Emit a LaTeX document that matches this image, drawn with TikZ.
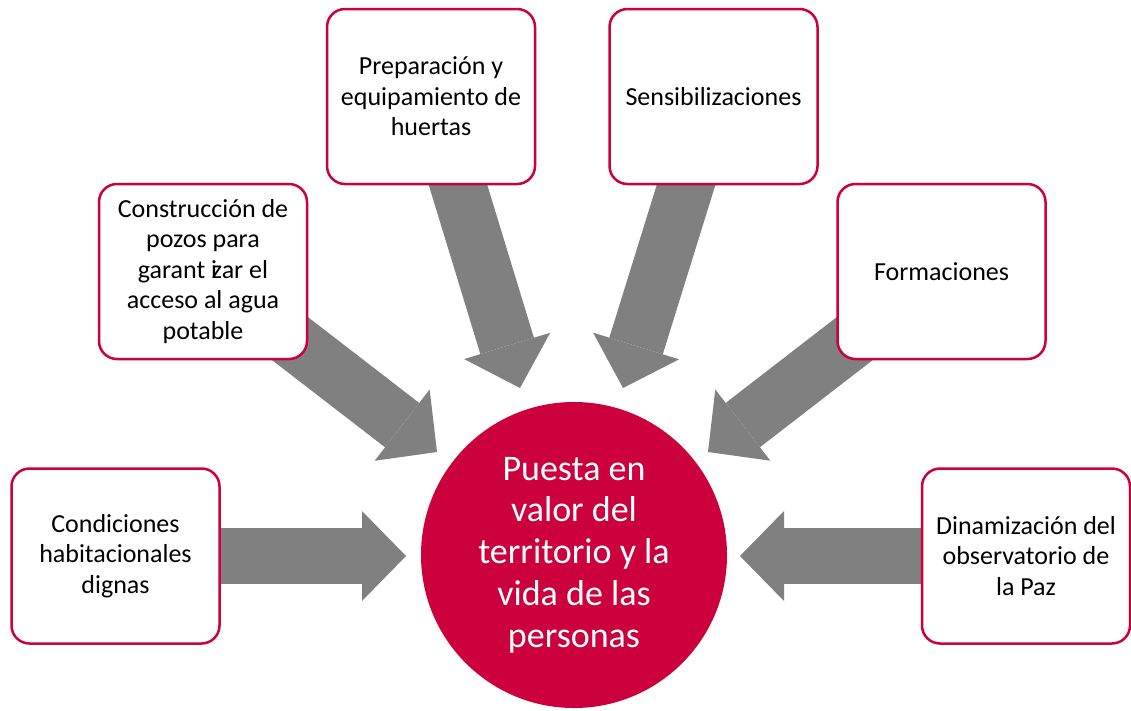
\documentclass[tikz,border=0pt]{standalone}
\usepackage{fontspec}
\setmainfont{Carlito}
\usetikzlibrary{arrows.meta,backgrounds}
\definecolor{crim}{RGB}{204,0,60}
\definecolor{arrgray}{RGB}{128,128,128}
\begin{document}
\begin{tikzpicture}[x=1pt,y=-1pt,
  box/.style={draw=crim, line width=2.5pt, fill=white, rounded corners=18pt,
    minimum width=208pt, minimum height=175pt, align=center,
    font=\fontsize{26}{30.5}\selectfont, inner sep=0pt},
  hub/.style={circle, fill=crim, minimum size=306pt, inner sep=0pt, align=center,
    text=white, font=\fontsize{36}{41.7}\selectfont},
  blockarrow/.style={draw=arrgray, line width=56pt,
    -{Triangle[width=90pt,length=44pt,line width=0pt]}}]
\useasboundingbox (0,0) rectangle (1131,710);
\node[hub] (hub) at (574,555) {Puesta en\\valor del\\territorio y la\\vida de las\\personas};
\node[box] (cond) at (115.5,556) {Condiciones\\habitacionales\\dignas};
\node[box] (cons) at (203,271.5) {Construcción de\\pozos para\\garant i\kern-0.2em zar el\\acceso al agua\\potable};
\node[box] (prep) at (431,96.5) {Preparación y\\equipamiento de\\huertas};
\node[box] (sens) at (713.5,96.5) {Sensibilizaciones};
\node[box] (form) at (941.5,271.5) {Formaciones};
\node[box] (dina) at (1026,556) {Dinamización del\\observatorio de\\la Paz};
\coordinate (t1) at (406,556);
\coordinate (t2) at (437,452);
\coordinate (t3) at (520,388);
\coordinate (t4) at (623,388);
\coordinate (t5) at (708,452);
\coordinate (t6) at (740,556);
\begin{scope}[on background layer]
\draw[blockarrow] (cond.center) -- (t1);
\draw[blockarrow] (cons.center) -- (t2);
\draw[blockarrow] (prep.center) -- (t3);
\draw[blockarrow] (sens.center) -- (t4);
\draw[blockarrow] (form.center) -- (t5);
\draw[blockarrow] (dina.center) -- (t6);
\end{scope}
\end{tikzpicture}
\end{document}
